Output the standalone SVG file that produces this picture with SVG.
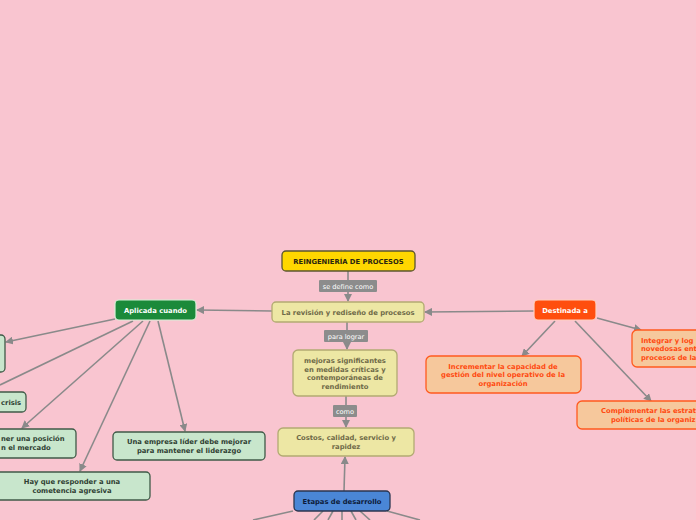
<svg xmlns="http://www.w3.org/2000/svg" width="696" height="520" viewBox="0 0 696 520">
<defs>
<marker id="ah" markerWidth="8" markerHeight="8" refX="7" refY="4" orient="auto" markerUnits="userSpaceOnUse">
<path d="M0,0 L8,4 L0,8 Z" fill="#8a8a8a"/>
</marker>
<style>
.c{stroke:#8a8a8a;stroke-width:1.6;fill:none}
.t{font-family:"DejaVu Sans",Verdana,sans-serif;font-weight:bold;font-size:6.8px;text-anchor:middle}
.s{text-anchor:start}
.lb{fill:#8c8c8c}
.lt{font-family:"DejaVu Sans",Verdana,sans-serif;font-size:6.6px;fill:#ffffff;text-anchor:middle}
.kh{fill:#ede7a4;stroke:#b2aa72;stroke-width:1.3}
.kht{fill:#6f6a48}
.gr{fill:#c8e6cc;stroke:#3f5a47;stroke-width:1.3}
.grt{fill:#2f3f33}
.pe{fill:#f6c89c;stroke:#ff5a1e;stroke-width:1.3}
.pet{fill:#ff4a10}
</style>
</defs>
<rect x="0" y="0" width="696" height="520" fill="#f9c5d0"/>
<g id="connectors">
<line class="c" x1="348" y1="271" x2="348" y2="301" marker-end="url(#ah)"/>
<line class="c" x1="347" y1="322" x2="347" y2="349" marker-end="url(#ah)"/>
<line class="c" x1="346" y1="396" x2="346" y2="427" marker-end="url(#ah)"/>
<line class="c" x1="344" y1="491" x2="345" y2="457" marker-end="url(#ah)"/>
<line class="c" x1="272" y1="311" x2="197" y2="310" marker-end="url(#ah)"/>
<line class="c" x1="534" y1="311" x2="425" y2="312" marker-end="url(#ah)"/>
<line class="c" x1="115" y1="319" x2="6" y2="342" marker-end="url(#ah)"/>
<line class="c" x1="133" y1="321" x2="0" y2="385"/>
<line class="c" x1="143" y1="321" x2="22" y2="428" marker-end="url(#ah)"/>
<line class="c" x1="150" y1="321" x2="80" y2="471" marker-end="url(#ah)"/>
<line class="c" x1="158" y1="321" x2="185" y2="431" marker-end="url(#ah)"/>
<line class="c" x1="555" y1="321" x2="522" y2="356" marker-end="url(#ah)"/>
<line class="c" x1="597" y1="318" x2="641" y2="330" marker-end="url(#ah)"/>
<line class="c" x1="575" y1="321" x2="651" y2="401" marker-end="url(#ah)"/>
<line class="c" x1="293" y1="511" x2="253" y2="520"/>
<line class="c" x1="323" y1="511" x2="314" y2="520"/>
<line class="c" x1="333" y1="511" x2="328" y2="520"/>
<line class="c" x1="342" y1="511" x2="342" y2="520"/>
<line class="c" x1="351" y1="511" x2="356" y2="520"/>
<line class="c" x1="360" y1="511" x2="370" y2="520"/>
<line class="c" x1="387" y1="511" x2="420" y2="520"/>
<rect class="lb" x="319" y="280" width="58" height="12" rx="1"/>
<text class="lt" x="348" y="288.5">se define como</text>
<rect class="lb" x="324" y="330" width="44" height="12" rx="1"/>
<text class="lt" x="346" y="338.5">para lograr</text>
<rect class="lb" x="333" y="405" width="24" height="12" rx="1"/>
<text class="lt" x="345" y="413.5">como</text>
</g>
<g id="root">
<rect x="282" y="251" width="133" height="20" rx="4" fill="#ffd700" stroke="#5b5530" stroke-width="1.3"/>
<text class="t" x="348.5" y="263.5" fill="#2a2410" font-size="6.8">REINGENIERÍA DE PROCESOS</text>
</g>
<g id="revision">
<rect class="kh" x="272" y="302" width="152" height="20" rx="4"/>
<text class="t kht" x="348" y="314.5">La revisión y rediseño de procesos</text>
</g>
<g id="mejoras">
<rect class="kh" x="293" y="350" width="104" height="46" rx="5"/>
<text class="t kht" x="345" y="363">mejoras significantes</text>
<text class="t kht" x="345" y="371.5">en medidas críticas y</text>
<text class="t kht" x="345" y="380">contemporáneas de</text>
<text class="t kht" x="345" y="388.5">rendimiento</text>
</g>
<g id="costos">
<rect class="kh" x="278" y="428" width="136" height="28" rx="5"/>
<text class="t kht" x="346" y="440">Costos, calidad, servicio y</text>
<text class="t kht" x="346" y="448.5">rapidez</text>
</g>
<g id="etapas">
<rect x="294" y="491" width="96" height="20" rx="4" fill="#4a86d6" stroke="#2b3650" stroke-width="1.3"/>
<text class="t" x="342" y="503.5" fill="#0d1b3a">Etapas de desarrollo</text>
</g>
<g id="aplicada">
<rect x="115" y="300" width="81" height="20" rx="4" fill="#1b8a3a" stroke="#d6f0d6" stroke-width="1.2"/>
<text class="t" x="155.5" y="312.5" fill="#ffffff">Aplicada cuando</text>
</g>
<g id="nodo-izq-1">
<rect class="gr" x="-20" y="335" width="25" height="37" rx="4"/>
</g>
<g id="crisis">
<rect class="gr" x="-40" y="392" width="66" height="20" rx="4"/>
<text class="t grt s" x="1" y="404.5">crisis</text>
</g>
<g id="posicion">
<rect class="gr" x="-60" y="429" width="136" height="29" rx="4"/>
<text class="t grt s" x="1" y="441">ner una posición</text>
<text class="t grt s" x="1" y="450">n el mercado</text>
</g>
<g id="competencia">
<rect class="gr" x="-12" y="472" width="162" height="28" rx="4"/>
<text class="t grt" x="72" y="484">Hay que responder a una</text>
<text class="t grt" x="72" y="493">cometencia agresiva</text>
</g>
<g id="lider">
<rect class="gr" x="113" y="432" width="152" height="28" rx="4"/>
<text class="t grt" x="189" y="444">Una empresa líder debe mejorar</text>
<text class="t grt" x="189" y="453">para mantener el liderazgo</text>
</g>
<g id="destinada">
<rect x="534" y="300" width="62" height="20" rx="4" fill="#ff4e0e" stroke="#ffd0c0" stroke-width="1.2"/>
<text class="t" x="565" y="312.5" fill="#ffffff">Destinada a</text>
</g>
<g id="incrementar">
<rect class="pe" x="426" y="356" width="155" height="37" rx="5"/>
<text class="t pet" x="503" y="368.5">Incrementar la capacidad de</text>
<text class="t pet" x="503" y="377">gestión del nivel operativo de la</text>
<text class="t pet" x="503" y="385.5">organización</text>
</g>
<g id="integrar">
<rect class="pe" x="632" y="330" width="100" height="37" rx="5"/>
<text class="t pet s" x="641" y="342.5">Integrar y log</text>
<text class="t pet s" x="641" y="351">novedosas ent</text>
<text class="t pet s" x="641" y="359.5">procesos de la</text>
</g>
<g id="complementar">
<rect class="pe" x="577" y="401" width="150" height="28" rx="5"/>
<text class="t pet s" x="601" y="413">Complementar las estrat</text>
<text class="t pet s" x="611" y="422">políticas de la organiz</text>
</g>
</svg>
